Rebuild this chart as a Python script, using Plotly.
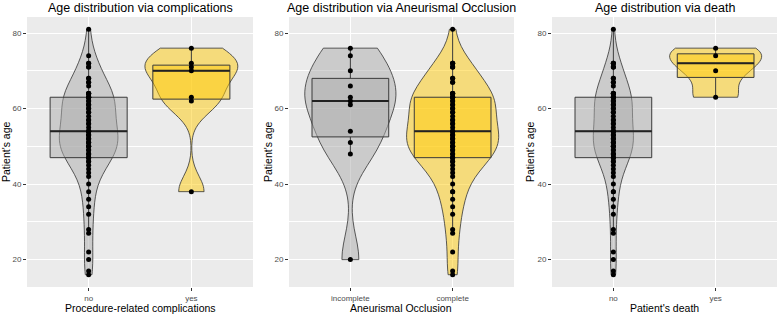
import numpy as np
import plotly.graph_objects as go

# ---------------- data (per patient) ----------------
# patients that belong to at least one minority group
ages_special = [76, 74, 70, 63, 62, 72, 71, 38, 66, 61, 54, 51, 48, 20]
comp_special = ["yes", "no", "yes", "yes", "yes", "yes", "yes", "yes", "no", "no", "no", "no", "no", "no"]
occl_special = ["incomplete", "incomplete", "incomplete", "incomplete", "incomplete",
                "complete", "complete", "complete",
                "incomplete", "incomplete", "incomplete", "incomplete", "incomplete", "incomplete"]
death_special = ["yes", "yes", "yes", "yes", "no", "no", "no", "no", "no", "no", "no", "no", "no", "no"]

# remaining patients: no complication, complete occlusion, alive
ages_rest = [16, 17, 22, 27, 28, 32, 34, 36, 38, 40,
             42, 43, 44, 45, 46, 46, 47, 47, 47,
             48, 48, 49, 49, 50, 50, 50, 51, 51, 52, 52, 52, 53, 53, 53,
             54, 54, 54,
             55, 56, 56, 57, 57, 58, 59, 59, 60, 60, 61, 61, 62, 62,
             63, 63, 63, 63, 64, 64, 64, 64, 64,
             67, 67, 68, 68, 71, 71, 72, 72, 81]

ages = ages_special + ages_rest
complications = comp_special + ["no"] * len(ages_rest)
occlusion = occl_special + ["complete"] * len(ages_rest)
death = death_special + ["no"] * len(ages_rest)

panels = [
    ("Age distribution via complications", "Procedure-related complications", complications, ["no", "yes"]),
    ("Age distribution via Aneurismal Occlusion", "Aneurismal Occlusion", occlusion, ["incomplete", "complete"]),
    ("Age distribution via death", "Patient's death", death, ["no", "yes"]),
]

fill_colors = ["rgba(172,172,172,0.5)", "rgba(255,204,12,0.5)"]
FONT = "Liberation Sans, Arial, sans-serif"


def bw_nrd0(v):
    v = np.asarray(v, float)
    sd = v.std(ddof=1)
    q75, q25 = np.percentile(v, [75, 25])
    lo = min(sd, (q75 - q25) / 1.34)
    if lo <= 0:
        lo = sd if sd > 0 else 1.0
    return 0.9 * lo * len(v) ** -0.2


def max_kde(v, bw):
    v = np.asarray(v, float)
    g = np.linspace(v.min(), v.max(), 512)
    d = np.exp(-0.5 * ((g[:, None] - v[None, :]) / bw) ** 2).sum(axis=1)
    d /= len(v) * bw * np.sqrt(2 * np.pi)
    return d.max()


def box_stats(v):
    v = np.asarray(v, float)
    q1, med, q3 = np.percentile(v, [25, 50, 75])
    iqr = q3 - q1
    lf = v[v >= q1 - 1.5 * iqr].min()
    uf = v[v <= q3 + 1.5 * iqr].max()
    return float(q1), float(med), float(q3), float(lf), float(uf)


W, H = 780, 315
xdoms = [(27, 253), (289, 514), (552, 777)]
ytop, ybot = 17, 287
ymin, ymax = min(ages), max(ages)
pad = 0.05 * (ymax - ymin)
yrange = [ymin - pad, ymax + pad]

fig = go.Figure()
annotations = []
ages_arr = np.asarray(ages, float)

for p, (title, xtitle, labels, cats) in enumerate(panels):
    xa = "x" if p == 0 else f"x{p+1}"
    ya = "y" if p == 0 else f"y{p+1}"
    lab = np.asarray(labels)
    groups = [ages_arr[lab == c] for c in cats]
    bws = [bw_nrd0(g) for g in groups]
    peaks = [max_kde(g, b) for g, b in zip(groups, bws)]
    top_peak = max(peaks)
    for ci, cat in enumerate(cats):
        vals = groups[ci]
        xs = [cat] * len(vals)
        # ggplot "area" scaling: width proportional to peak density
        fig.add_trace(go.Violin(
            x=xs, y=vals, xaxis=xa, yaxis=ya, width=0.9 * peaks[ci] / top_peak,
            scalegroup=f"p{p}_{ci}", scalemode="width", spanmode="hard",
            bandwidth=bws[ci], points=False,
            fillcolor=fill_colors[ci], line=dict(color="#333333", width=0.8),
            box=dict(visible=False), meanline=dict(visible=False),
            showlegend=False, hoverinfo="skip"))
        q1, med, q3, lf, uf = box_stats(vals)
        fig.add_trace(go.Box(
            x=[cat], q1=[q1], median=[med], q3=[q3], lowerfence=[lf], upperfence=[uf],
            xaxis=xa, yaxis=ya, width=0.75, whiskerwidth=0, boxpoints=False,
            fillcolor=fill_colors[ci], line=dict(color="#3a3a3a", width=1),
            showlegend=False, hoverinfo="skip"))
        fig.add_trace(go.Box(
            x=[cat], q1=[med], median=[med], q3=[med], lowerfence=[med], upperfence=[med],
            xaxis=xa, yaxis=ya, width=0.75, whiskerwidth=0, boxpoints=False,
            fillcolor="rgba(0,0,0,0)", line=dict(color="#222222", width=2),
            showlegend=False, hoverinfo="skip"))
        fig.add_trace(go.Scatter(
            x=xs, y=vals, xaxis=xa, yaxis=ya, mode="markers",
            marker=dict(color="black", size=5, line=dict(width=0)),
            showlegend=False, hoverinfo="skip"))

    x0, x1 = xdoms[p]
    fig.layout[("xaxis" if p == 0 else f"xaxis{p+1}")] = dict(
        domain=[x0 / W, x1 / W], anchor=ya, type="category",
        categoryorder="array", categoryarray=cats, range=[-0.6, 1.6],
        showgrid=True, gridcolor="white", gridwidth=1.1, zeroline=False,
        ticks="outside", ticklen=3, tickcolor="#333333", tickwidth=1,
        tickfont=dict(family=FONT, size=8, color="#4D4D4D"), showline=False)
    fig.layout[("yaxis" if p == 0 else f"yaxis{p+1}")] = dict(
        domain=[(H - ybot) / H, (H - ytop) / H], anchor=xa, range=yrange,
        tickvals=[20, 40, 60, 80], showgrid=True, gridcolor="white", gridwidth=1.1,
        minor=dict(tickvals=[30, 50, 70], showgrid=True, gridcolor="white", gridwidth=0.5, ticks=""),
        zeroline=False, ticks="outside", ticklen=3, tickcolor="#333333", tickwidth=1,
        tickfont=dict(family=FONT, size=8, color="#4D4D4D"), showline=False)

    cx = (x0 + x1) / 2 / W
    annotations.append(dict(text=title, x=cx, y=1 - 8 / H, xref="paper", yref="paper",
                            xanchor="center", yanchor="middle", showarrow=False,
                            font=dict(family=FONT, size=12.5, color="black")))
    annotations.append(dict(text=xtitle, x=cx, y=1 - 308 / H, xref="paper", yref="paper",
                            xanchor="center", yanchor="middle", showarrow=False,
                            font=dict(family=FONT, size=10.5, color="black")))
    yt_x = [6, 268, 530][p]
    annotations.append(dict(text="Patient's age", x=yt_x / W, y=(H - (ytop + ybot) / 2) / H,
                            xref="paper", yref="paper", xanchor="center", yanchor="middle",
                            textangle=-90, showarrow=False,
                            font=dict(family=FONT, size=10.5, color="black")))

fig.update_layout(
    width=W, height=H, margin=dict(l=0, r=0, t=0, b=0),
    paper_bgcolor="white", plot_bgcolor="#EBEBEB",
    violinmode="overlay", boxmode="overlay",
    annotations=annotations, font=dict(family=FONT))

fig.write_html("out.html", config={"displayModeBar": False},
               post_script="document.body.style.margin='0';document.body.style.overflow='hidden';")
